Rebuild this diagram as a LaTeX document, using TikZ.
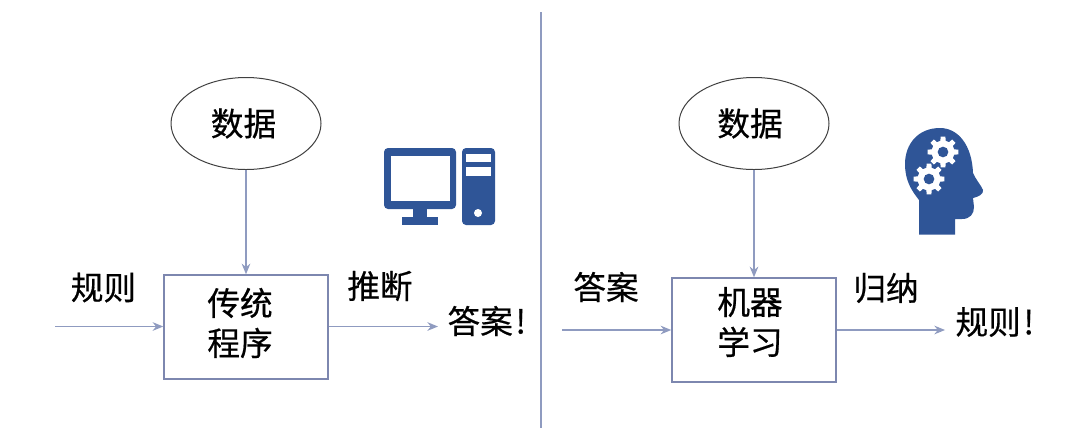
\documentclass[tikz,border=0pt]{standalone}
\usepackage{fontspec}
\setmainfont[FakeBold=0.5]{Noto Sans CJK SC}
\usetikzlibrary{shapes.geometric,arrows.meta}
\definecolor{iconblue}{RGB}{47,85,151}
\definecolor{flowline}{RGB}{143,155,192}
\definecolor{boxline}{RGB}{125,135,175}
\tikzset{every picture/.style={line width=0.75pt}}
\tikzset{
  txt/.style={font=\fontsize{24.5}{30}\selectfont,align=center,inner sep=0pt},
  dataell/.style={ellipse,draw=black!75,minimum width=112.5pt,minimum height=69pt,inner sep=0pt},
  progbox/.style={rectangle,draw=boxline,line width=1.1pt,minimum width=123pt,minimum height=78pt,inner sep=0pt},
  flow/.style={draw=flowline,line width=1pt,-{Stealth[length=8pt,width=6.5pt,fill=flowline]}}
}
\newcommand{\gearshape}[2]{%
  \fill[white] (#1,#2) +(0:11) \foreach \a in {0,45,...,315} {
    -- +(\a-13:11.5) -- +(\a-9:15.5) -- +(\a+9:15.5) -- +(\a+13:11.5) -- +(\a+32:11.5)
  } -- cycle;
  \fill[iconblue] (#1,#2) circle (4pt);
}

\begin{document}
\begin{tikzpicture}[x=0.75pt,y=0.75pt,yscale=-1,xscale=1]
\useasboundingbox (0,0) rectangle (1080,437);

%Divider
\coordinate (divtop) at (541,12);
\coordinate (divbot) at (541,428);
\draw [draw=flowline,line width=1.1pt] (divtop) -- (divbot);

%Left half
\node [dataell] (dataL) at (246,123.5) {};
\node [progbox] (progL) at (246,327) {};
\coordinate (inL) at (55,326.5);
\coordinate (outL) at (438,326.5);
\draw [flow] (dataL) -- (progL);
\draw [flow] (inL) -- (progL.west |- inL);
\draw [flow] (progL.east |- outL) -- (outL);

% Text Node
\node [txt] (dataLtxt) at (243.5,123.5) {数据};
\node [txt] (progLtxt) at (240,323) {传统\\程序};
\node [txt] (ruleL) at (103.5,287.5) {规则};
\node [txt] (inferL) at (380,286) {推断};
\node [txt,anchor=west] (ansL) at (447,321) {答案\kern2pt!};

%Right half
\node [dataell] (dataR) at (754,123.5) {};
\node [progbox] (progR) at (754,330) {};
\coordinate (inR) at (562,330);
\coordinate (outR) at (945,330);
\draw [flow] (dataR) -- (progR);
\draw [flow] (inR) -- (progR.west |- inR);
\draw [flow] (progR.east |- outR) -- (outR);

% Text Node
\node [txt] (dataRtxt) at (750,123.5) {数据};
\node [txt] (progRtxt) at (750,322) {机器\\学习};
\node [txt] (ansR) at (606,287) {答案};
\node [txt] (inducR) at (886,288) {归纳};
\node [txt,anchor=west] (ruleR) at (955,322) {规则\kern2pt!};

%Computer icon
\fill [iconblue,rounded corners=3pt] (384,148) rectangle (456,209);
\fill [white] (391,156) rectangle (450,201);
\fill [iconblue] (413,209) rectangle (427,217);
\fill [iconblue] (402,217) rectangle (438,225);
\fill [iconblue,rounded corners=3pt] (462,148) rectangle (495,225);
\fill [white] (466,154) rectangle (491,162);
\fill [white] (466,167) rectangle (491,176);
\fill [white] (478,213) circle (3pt);

%Head icon
\fill [iconblue] (919,234.5) -- (955,234.5) -- (955,219) -- (962,219)
  .. controls (970,219) and (974,214) .. (974,207)
  -- (973,198) .. controls (978,197) and (984,194) .. (983,190)
  .. controls (981,185) and (976,180) .. (973,173)
  .. controls (972,145) and (958,128) .. (940,128)
  .. controls (918,128) and (905,144) .. (905,164)
  .. controls (905,180) and (911,190) .. (919,200) -- cycle;
\gearshape{943}{152}
\gearshape{929}{179}

\end{tikzpicture}
\end{document}
